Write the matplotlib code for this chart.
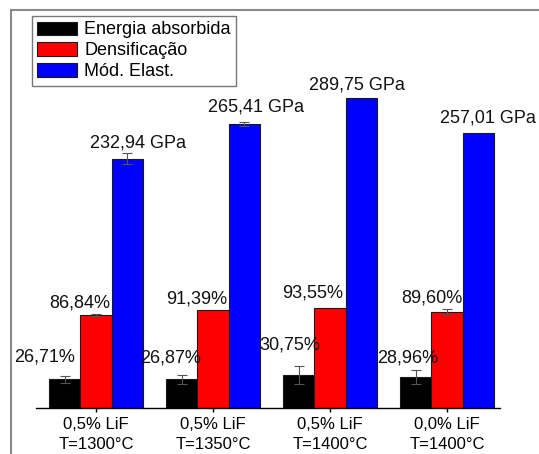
import matplotlib
matplotlib.use("Agg")
import matplotlib.pyplot as plt
from matplotlib.lines import Line2D
import numpy as np

plt.rcParams['font.family'] = ['Liberation Sans', 'DejaVu Sans']

# Data
groups = ["0,5% LiF\nT=1300°C", "0,5% LiF\nT=1350°C", "0,5% LiF\nT=1400°C", "0,0% LiF\nT=1400°C"]
series_names = ["Energia absorbida", "Densificação", "Mód. Elast."]
energia = [26.71, 26.87, 30.75, 28.96]
densificacao = [86.84, 91.39, 93.55, 89.60]
mod_elast = [232.94, 265.41, 289.75, 257.01]
energia_err = [3.3, 4.3, 8.4, 6.2]
densificacao_err = [0.5, 0.0, 0.0, 2.5]
mod_elast_err = [5.0, 2.0, 0.0, 0.0]

energia_lbl = ["26,71%", "26,87%", "30,75%", "28,96%"]
densificacao_lbl = ["86,84%", "91,39%", "93,55%", "89,60%"]
mod_elast_lbl = ["232,94 GPa", "265,41 GPa", "289,75 GPa", "257,01 GPa"]

# label offsets (pixels) from bar top-centre
energia_off = [(-20, 22), (-11, 21), (-9, 30), (-8, 19)]
densificacao_off = [(-16, 12), (-16, 11), (-17, 15), (-15, 14)]
mod_elast_off = [(11, 16), (12, 17), (-4, 13), (10, 15)]

colors = ["#000000", "#ff0000", "#0000ff"]

W, H = 539, 454
fig = plt.figure(figsize=(W / 100, H / 100), dpi=100)

# plotting area
left_px, right_px, base_px, top_px = 36, 500, 408, 10
ax = fig.add_axes([left_px / W, (H - base_px) / H, (right_px - left_px) / W, (base_px - top_px) / H])
px_per_unit = 1.071
ax.set_ylim(0, (base_px - top_px) / px_per_unit)
ax.set_xlim(-0.513, 3.453)

x = np.arange(len(groups))
bw = 0.8 / 3
all_vals = [energia, densificacao, mod_elast]
all_errs = [energia_err, densificacao_err, mod_elast_err]
all_lbls = [energia_lbl, densificacao_lbl, mod_elast_lbl]
all_offs = [energia_off, densificacao_off, mod_elast_off]

for i, (vals, errs, lbls, offs) in enumerate(zip(all_vals, all_errs, all_lbls, all_offs)):
    xi = x + (i - 1) * bw
    ax.bar(xi, vals, width=bw, color=colors[i], edgecolor="#1a1a1a", linewidth=0.8,
           label=series_names[i], zorder=2)
    sel = np.array(errs) > 0
    ax.errorbar(xi[sel], np.array(vals)[sel], yerr=np.array(errs)[sel], fmt="none",
                ecolor="#555555", elinewidth=0.8, capsize=3.5, capthick=0.8, zorder=3)
    for xx, v, t, (dx, dy) in zip(xi, vals, lbls, offs):
        ax.annotate(t, (xx, v), xytext=(dx, dy), textcoords="offset pixels",
                    ha="center", va="center", fontsize=13, color="#111111")

for s in ["left", "right", "top"]:
    ax.spines[s].set_visible(False)
ax.spines["bottom"].set_linewidth(1.0)
ax.set_yticks([])
ax.set_xticks(x)
ax.set_xticklabels(groups, fontsize=12, linespacing=1.45)
ax.tick_params(axis="x", direction="out", length=3, width=1, pad=3.5)

# outer frame lines
fig.add_artist(Line2D([11 / W, 1.0], [1 - 10 / H, 1 - 10 / H], color="#8a8a8a", lw=1.5,
                      transform=fig.transFigure))
fig.add_artist(Line2D([11 / W, 11 / W], [0.0, 1 - 10 / H], color="#8a8a8a", lw=1.5,
                      transform=fig.transFigure))

leg = fig.legend(loc="upper left", bbox_to_anchor=(32 / W, 1 - 16 / H),
                 bbox_transform=fig.transFigure, fontsize=13, frameon=True, fancybox=False,
                 borderaxespad=0, borderpad=0.3, handlelength=2.2, handleheight=0.75,
                 handletextpad=0.4, labelspacing=0.22)
leg.get_frame().set_edgecolor("#777777")
leg.get_frame().set_linewidth(1.0)
leg.get_frame().set_alpha(1)

fig.savefig("out.png", dpi=100)
